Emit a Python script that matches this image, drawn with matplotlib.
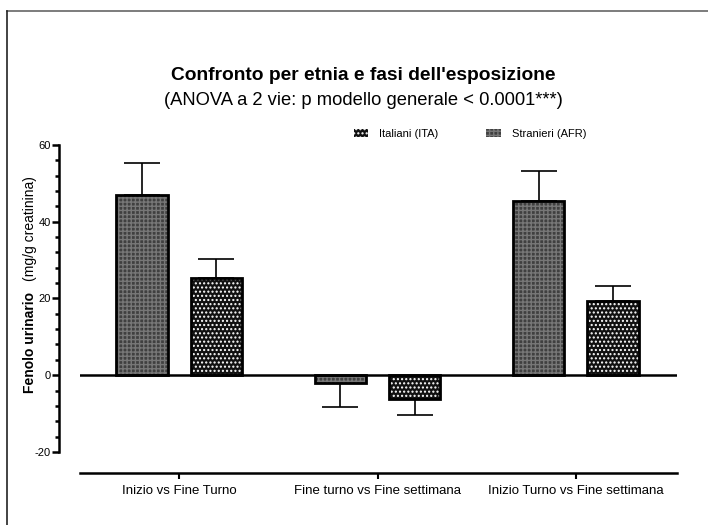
import numpy as np
import matplotlib
matplotlib.use("Agg")
from matplotlib import pyplot as plt
from matplotlib.patches import Patch
from matplotlib.lines import Line2D

# data
groups = ["Inizio vs Fine Turno", "Fine turno vs Fine settimana", "Inizio Turno vs Fine settimana"]
series_names = ["Italiani (ITA)", "Stranieri (AFR)"]
dark_vals = [47.0, -2.0, 45.3]
dark_err = [8.2, 6.3, 8.0]
check_vals = [25.4, -6.3, 19.3]
check_err = [5.0, 4.1, 3.9]

plt.rcParams['font.family'] = ['Liberation Sans', 'DejaVu Sans']
plt.rcParams['axes.unicode_minus'] = False

fig = plt.figure(figsize=(7.08, 5.25), dpi=100)
W, H = 708, 525
ax = fig.add_axes([80 / W, 1 - 473 / H, (677 - 80) / W, (473 - 145) / H])

x = np.arange(len(groups))
bw = 0.258
off = 0.187

dark_style = dict(facecolor='#404040', edgecolor='#777777', hatch='++++', linewidth=0)
check_style = dict(facecolor='#111111', edgecolor='white', hatch='....', linewidth=0)

for xs, vals, errs, style in [(x - off, dark_vals, dark_err, dark_style),
                              (x + off, check_vals, check_err, check_style)]:
    ax.bar(xs, vals, bw, zorder=2, **style)
    ax.bar(xs, vals, bw, fill=False, edgecolor='black', linewidth=2, zorder=3)
    # one sided error bars, in the direction of the bar
    lo = [e if v < 0 else 0 for v, e in zip(vals, errs)]
    hi = [e if v >= 0 else 0 for v, e in zip(vals, errs)]
    ax.errorbar(xs, vals, yerr=[lo, hi], fmt='none', ecolor='black',
                elinewidth=1.2, capsize=13, capthick=1.2, zorder=1)

ax.axhline(0, color='black', linewidth=1.8, zorder=4)

ax.set_xlim(-0.5, 2.51)
ax.set_ylim(-25.5, 60)
ax.set_xticks(x)
ax.set_xticklabels(groups, fontsize=9.5)
ax.set_yticks([-20, 0, 20, 40, 60])
ax.set_yticks(np.arange(-20, 61, 4), minor=True)
ax.tick_params(axis='y', which='major', length=5, width=1.8, labelsize=8, colors='black', pad=1)
ax.tick_params(axis='y', which='minor', length=3, width=1.8)
ax.tick_params(axis='x', length=4, width=1.5, pad=5)
for lab in ax.get_yticklabels():
    lab.set_color('#333333')

ax.spines['top'].set_visible(False)
ax.spines['right'].set_visible(False)
ax.spines['left'].set_position(('outward', 15))
ax.spines['left'].set_bounds(-20, 60)
ax.spines['left'].set_linewidth(1.8)
ax.spines['bottom'].set_linewidth(1.8)

# y label: bold part + regular part
fig.text(30 / W, 1 - 393 / H, "Fenolo urinario", rotation=90, ha='center', va='bottom',
         fontsize=10, fontweight='bold')
fig.text(30 / W, 1 - 281 / H, "(mg/g creatinina)", rotation=90, ha='center', va='bottom',
         fontsize=10)

# titles
fig.text(363 / W, 1 - 76 / H, "Confronto per etnia e fasi dell'esposizione", ha='center',
         va='center', fontsize=13.8, fontweight='bold')
fig.text(363 / W, 1 - 101 / H, "(ANOVA a 2 vie: p modello generale < 0.0001***)", ha='center',
         va='center', fontsize=13.2)

handles = [Patch(facecolor='#111111', edgecolor='white', hatch='....', linewidth=0),
           Patch(facecolor='#404040', edgecolor='#777777', hatch='++++', linewidth=0)]
fig.legend(handles, series_names, loc='center', bbox_to_anchor=(470 / W, 1 - 134 / H),
           ncol=2, frameon=False, fontsize=8, handlelength=1.3, handleheight=0.8,
           columnspacing=4.3, handletextpad=1.0)

# screenshot frame on top and left
fig.add_artist(Line2D([7 / W, 1], [1 - 11 / H, 1 - 11 / H], color='#666666', linewidth=1.2))
fig.add_artist(Line2D([7 / W, 7 / W], [0, 1 - 11 / H], color='#222222', linewidth=1.2))

fig.savefig("out.png", dpi=100)
